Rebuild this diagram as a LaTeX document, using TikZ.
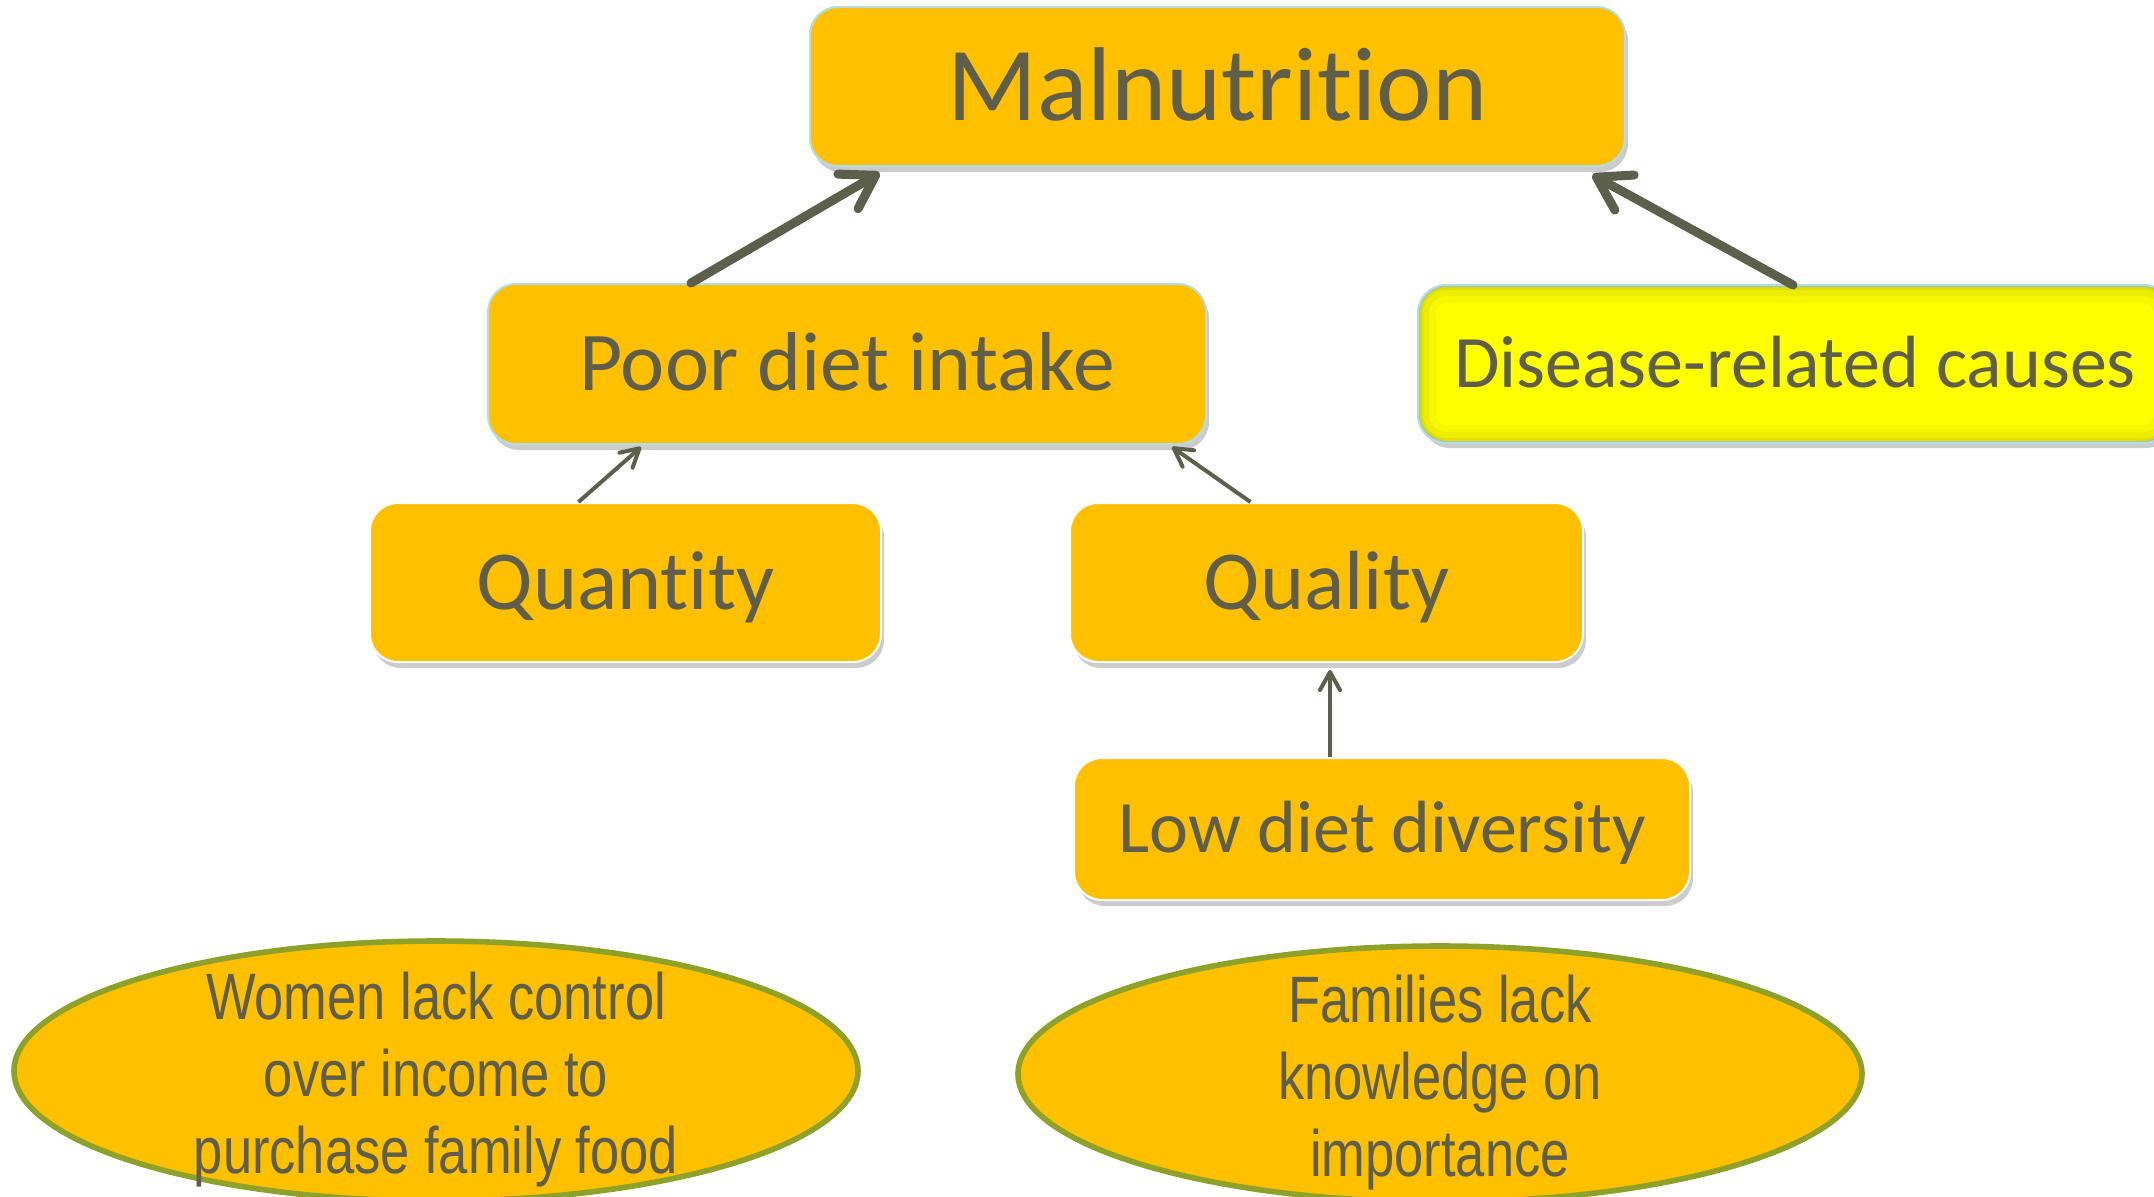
\documentclass[tikz,border=0pt]{standalone}
\usepackage{fontspec}
\setmainfont{Carlito}[Ligatures={NoCommon,NoContextual}]
\newfontfamily\narrowsans[FakeStretch=0.8]{Liberation Sans}
\usetikzlibrary{arrows.meta,calc,shapes.geometric,shadows}
\definecolor{gold}{HTML}{FFC000}
\definecolor{inktext}{HTML}{5E5E4A}
\definecolor{inkarrow}{HTML}{5C5F4C}
\definecolor{rimblue}{HTML}{B4DCE4}
\definecolor{rimolive}{HTML}{8EA22A}
\definecolor{brightyellow}{HTML}{FFFF00}
\definecolor{shadeolive}{HTML}{7A7A00}
% extra room above the first line of the ellipse texts
\newcommand{\toplift}{\rule{0pt}{32pt}}
% keeps t and i as separate glyphs
\newcommand{\tsep}{t\kern0pt i}
\begin{document}
\begin{tikzpicture}[x=0.5pt,y=-0.5pt,
  causebox/.style={rectangle, rounded corners=14pt, fill=gold, draw=white,
    line width=1pt, text=inktext, inner sep=0pt, text depth=0pt,
    drop shadow={shadow xshift=1.5pt, shadow yshift=-3pt, opacity=0.2, fill=black}},
  bluerim/.style={draw=rimblue},
  rootcause/.style={ellipse, fill=gold, draw=rimolive, line width=2.8pt,
    text=inktext, inner xsep=0pt, inner ysep=-30pt, align=center,
    font=\narrowsans\fontsize{32.8}{38.5}\selectfont},
  thickarrow/.style={draw=inkarrow, line width=4.5pt, line cap=round,
    -{Straight Barb[length=16pt,width=20pt,round]}},
  thinarrow/.style={draw=inkarrow, line width=2pt,
    -{Straight Barb[length=9pt,width=10pt,round]}}]

\useasboundingbox (0,0) rectangle (2154,1196);

% boxes
\node[causebox, bluerim, minimum width=407.5pt, minimum height=79.5pt,
  text height=33.8pt, font=\fontsize{52.5}{60}\selectfont]
  (mal) at (1217.5,86.5) {Malnutri\tsep on};
\node[causebox, bluerim, minimum width=359pt, minimum height=80pt,
  text height=26.7pt, font=\fontsize{41.8}{48}\selectfont]
  (poor) at (847,364) {Poor diet intake};
\node[causebox, bluerim, fill=brightyellow, minimum width=376pt, minimum height=78pt,
  text height=23.8pt, font=\fontsize{37}{44}\selectfont]
  (dis) at (1795,364) {Disease-related causes};
\node[causebox, minimum width=255.5pt, minimum height=79.5pt,
  text height=26.7pt, font=\fontsize{42}{48}\selectfont]
  (quantity) at (625.5,582.5) {Quan\tsep ty};
\node[causebox, minimum width=256.5pt, minimum height=79.5pt,
  text height=26.7pt, font=\fontsize{42}{48}\selectfont]
  (quality) at (1326.5,582.5) {Quality};
\node[causebox, minimum width=308pt, minimum height=71pt,
  text height=23.8pt, font=\fontsize{37}{44}\selectfont]
  (low) at (1382,829) {Low diet diversity};

% inner shading of the yellow box
\begin{scope}
  \clip[rounded corners=14pt] (dis.south west) rectangle (dis.north east);
  \foreach \w/\o in {18/0.06, 11/0.08, 5/0.12}
    \draw[rounded corners=14pt, draw=shadeolive, line width=\w pt, opacity=\o]
      (dis.south west) rectangle (dis.north east);
\end{scope}
\draw[rounded corners=14pt, draw=rimblue, line width=1pt]
  (dis.south west) rectangle (dis.north east);

% root causes
\node[rootcause, minimum width=422pt, minimum height=130pt]
  (women) at (436,1071) {\toplift Women lack control\\over income to\\purchase family food};
\node[rootcause, minimum width=422pt, minimum height=128pt]
  (families) at (1440,1074) {\toplift Families lack\\knowledge on\\importance};

% connectors
\draw[thickarrow] ($(poor.north)+(-156,0)$) -- ($(mal.south)+(-338,6)$);
\draw[thickarrow] ($(dis.north)+(-2,0)$) -- ($(mal.south)+(375,8)$);
\draw[thinarrow] ($(quantity.north)+(-47,0)$) -- ($(poor.south)+(-206,2)$);
\draw[thinarrow] ($(quality.north)+(-76,0)$) -- ($(poor.south)+(325,2)$);
\draw[thinarrow] ($(low.north)+(-52,0)$) -- ($(quality.south)+(3.5,7)$);
\end{tikzpicture}
\end{document}
